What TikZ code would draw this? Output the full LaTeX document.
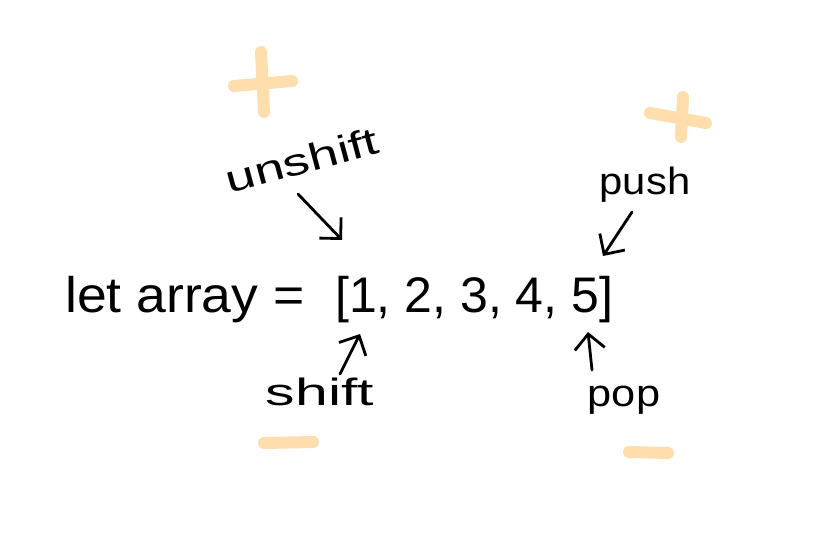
\documentclass[tikz,border=0pt]{standalone}
\usepackage{fontspec}
\setmainfont{Liberation Sans}
\usetikzlibrary{arrows.meta}
\definecolor{peach}{RGB}{255,221,172}
\begin{document}
\begin{tikzpicture}[x=1pt,y=-1pt,
  peachstroke/.style={draw=peach,line width=12pt,line cap=round},
  lbl/.style={inner sep=0pt,transform shape,font=\fontsize{38}{44}\selectfont},
  hand/.style={draw=black,line width=2.8pt,line cap=round,line join=round,-{Straight Barb[length=15pt,width=30pt,line width=2.8pt]}},
  code/.style={inner sep=0pt,transform shape,font=\fontsize{50}{58}\selectfont}]
\useasboundingbox[fill=white] (0,0) rectangle (837,543);
% peach plus / minus marks
\draw[peachstroke] (261,52) -- (264,112);
\draw[peachstroke] (234,86) -- (292,81);
\draw[peachstroke] (683,97) -- (681,137);
\draw[peachstroke] (650,113) -- (706,123);
\draw[peachstroke] (264,443) -- (313,442);
\draw[peachstroke] (629,452) -- (668,453);
% main code line
\node[code,anchor=base west,xscale=1.07] (lhs) at (65,312) {let array =};
\node[code,anchor=base west] (arr) at (335,312) {[1, 2, 3, 4, 5]};
\coordinate (open) at (342,240);
\coordinate (first) at (360,334);
\coordinate (close) at (603,256);
\coordinate (last) at (588,332);
% labels
\node[lbl,rotate=15,xscale=1.4] (unshift) at (302,160) {unshift};
\node[lbl,xscale=1.1] (push) at (645,185) {push};
\node[lbl,xscale=1.55] (shift) at (320,392) {shift};
\node[lbl,xscale=1.14] (pop) at (624,400) {pop};
% arrows
\draw[hand] (298,194) -- (open);
\draw[hand] (632,212) -- (close);
\draw[hand] (340,374) -- (first);
\draw[hand] (592,370) -- (last);
\end{tikzpicture}
\end{document}
